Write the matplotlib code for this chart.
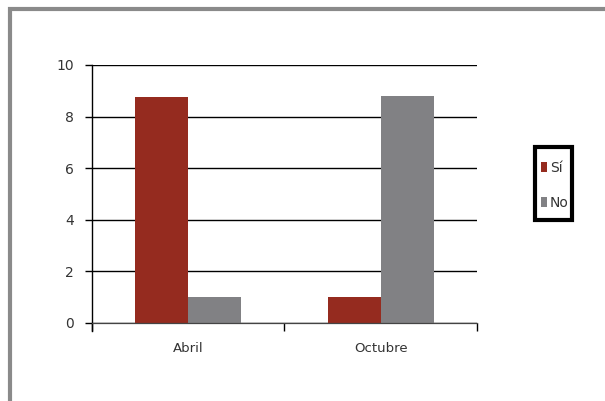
import matplotlib
matplotlib.use('Agg')
import matplotlib.pyplot as plt
import matplotlib.patches as mpatches
import numpy as np

categories = ["Abril", "Octubre"]
si_values = [8.75, 1.0]
no_values = [1.0, 8.8]
series_names = ["Sí", "No"]
y_ticks = [0, 2, 4, 6, 8, 10]

RED, GRAY, TEXT = "#952b1f", "#818184", "#333333"

fig = plt.figure(figsize=(6.05, 4.01), dpi=100, facecolor="white")

# outer frame (only left and top visible in the reference)
frame = mpatches.Rectangle((10 / 605, -0.05), 1.2, (401 - 9) / 401 + 0.05,
                           transform=fig.transFigure, fill=False,
                           edgecolor="#8a8a8a", linewidth=3, clip_on=False)
fig.patches.append(frame)

ax = fig.add_axes([92 / 605, (401 - 323) / 401, (477 - 92) / 605, (323 - 65) / 401])
x = np.arange(len(categories))
w = 0.275
ax.bar(x - w / 2, si_values, width=w, color=RED, zorder=3, label=series_names[0])
ax.bar(x + w / 2, no_values, width=w, color=GRAY, zorder=3, label=series_names[1])

ax.set_xlim(-0.5, len(categories) - 0.5)
ax.set_ylim(0, 10)
ax.set_yticks(y_ticks)
ax.set_yticklabels([str(t) for t in y_ticks], color=TEXT, fontsize=10)
ax.set_xticks(x)
ax.set_xticklabels(categories, color=TEXT, fontsize=9.5)
ax.tick_params(axis='x', length=0, pad=14)
ax.set_xticks(np.arange(len(categories) + 1) - 0.5, minor=True)
ax.tick_params(axis='x', which='minor', length=6, width=1, color='black', direction='out')
ax.tick_params(axis='y', length=5, width=1, color='black', direction='out', pad=8)

ax.grid(True, axis='y', color='black', linewidth=1)
ax.set_axisbelow(True)
for s in ['top', 'right']:
    ax.spines[s].set_visible(False)
ax.spines['bottom'].set_color('#444444')
ax.spines['bottom'].set_linewidth(0.9)
ax.spines['bottom'].set_zorder(4)
ax.spines['left'].set_bounds(-0.3, 10)
ax.spines['left'].set_linewidth(1)

# legend box drawn separately, entries placed inside it
box = mpatches.Rectangle((535 / 605, (401 - 220) / 401), 37 / 605, 73 / 401,
                         transform=fig.transFigure, fill=False,
                         edgecolor="black", linewidth=3)
fig.patches.append(box)
leg = fig.legend(loc='upper left', bbox_to_anchor=(541 / 605, (401 - 161) / 401),
                 fontsize=10, frameon=False, handlelength=0.4,
                 handleheight=0.7, handletextpad=0.25, labelspacing=1.5,
                 borderpad=0, borderaxespad=0)
for t in leg.get_texts():
    t.set_color(TEXT)

fig.savefig("out.png", dpi=100, facecolor="white")
